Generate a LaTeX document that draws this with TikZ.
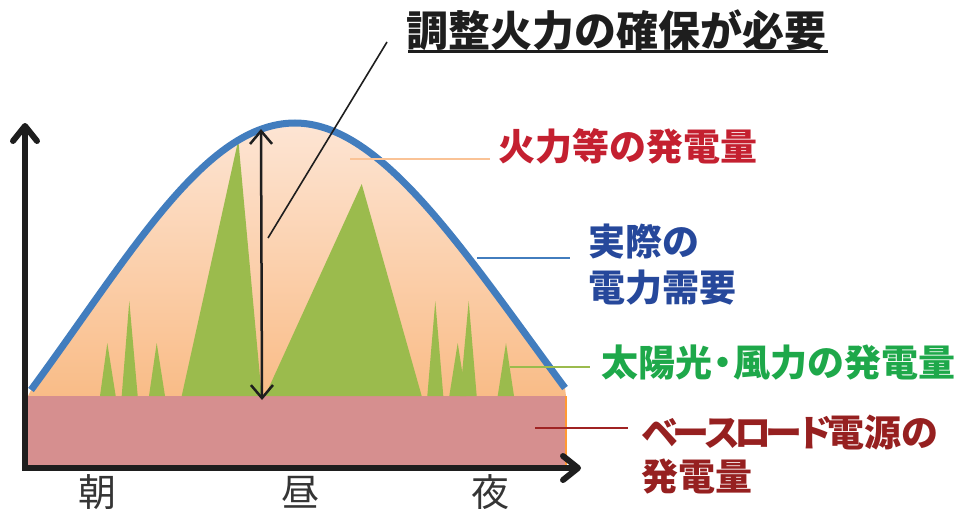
\documentclass[tikz,border=0pt]{standalone}
\usepackage{fontspec}
\newfontfamily\jp{Noto Sans CJK JP}
\usetikzlibrary{arrows.meta}
\definecolor{demandline}{RGB}{66,125,190}
\definecolor{solargreen}{RGB}{155,187,77}
\definecolor{basepink}{RGB}{214,143,143}
\definecolor{fillTop}{RGB}{253,229,212}
\definecolor{fillBot}{RGB}{249,188,135}
\definecolor{firered}{RGB}{196,32,48}
\definecolor{fireline}{RGB}{250,195,150}
\definecolor{demandtext}{RGB}{38,72,155}
\definecolor{greentext}{RGB}{30,168,74}
\definecolor{basered}{RGB}{150,32,32}
\definecolor{baseleader}{RGB}{160,35,35}
\definecolor{axisblack}{RGB}{30,30,30}
\newcommand{\kn}[1]{#1\kern-6pt}
\tikzset{
  axisline/.style={line width=6pt, draw=axisblack, -{Straight Barb[round,length=15pt,width=24pt]}},
  leader/.style={line width=2pt},
  label/.style={inner sep=0pt, anchor=west, font=\jp\bfseries\fontsize{37}{46}\selectfont, align=left},
  timelabel/.style={inner sep=0pt, font=\jp\fontsize{38}{40}\selectfont, text=axisblack!90},
  solar/.style={fill=solargreen, draw=none}
}
\begin{document}
\begin{tikzpicture}[x=1pt,y=-1pt]
\useasboundingbox (0,0) rectangle (957,508);
% fire generation area
\shade[top color=fillTop, bottom color=fillBot]
  (28,396) -- (31,390) .. controls (131,254) and (205,123) .. (295,123)
  .. controls (382,123) and (465,253) .. (565,388) -- (566,396) -- cycle;
% base load
\fill[basepink] (28,396) rectangle (566,466);
\draw[line width=1.5pt, orange!80] (566,396) -- (566,466);
% solar / wind
\fill[solar] (100,396) -- (107.3,343) -- (115.7,396) -- cycle;
\fill[solar] (121.7,396) -- (129.3,301) -- (137.7,396) -- cycle;
\fill[solar] (149,396) -- (156.7,343) -- (165,396) -- cycle;
\fill[solar] (181.7,396) -- (238.3,140) -- (261.7,396) -- cycle;
\fill[solar] (265,396) -- (361.7,184) -- (421.7,396) -- cycle;
\fill[solar] (427.3,396) -- (435.3,301) -- (443.3,396) -- cycle;
\fill[solar] (449.3,396) -- (457.7,343) -- (466,396) -- cycle;
\fill[solar] (460,396) -- (468.7,301) -- (476.7,396) -- cycle;
\fill[solar] (497.7,396) -- (506,343) -- (514,396) -- cycle;
% demand curve
\draw[line width=7pt, demandline]
  (31,390) .. controls (131,254) and (205,123) .. (295,123)
  .. controls (382,123) and (465,253) .. (565,388);
% axes
\coordinate (origin) at (25,468);
\coordinate (ytip) at (25,123);
\coordinate (xtip) at (581,468);
\draw[axisline] ([yshift=3pt]origin) -- (ytip);
\draw[axisline] ([xshift=-3pt]origin) -- (xtip);
% adjustment arrow
\coordinate (adjtop) at (261,129);
\coordinate (adjbot) at (262,400);
\draw[line width=2.5pt, axisblack, {Straight Barb[length=13pt,width=22pt]}-{Straight Barb[length=13pt,width=22pt]}] (adjtop) -- (adjbot);
% title
\node[inner sep=0pt, anchor=west, font=\jp\bfseries\fontsize{42}{42}\selectfont, text=axisblack] (title) at (406,30) {調整火力の確保が必要};
\coordinate (ul1) at (408,52);
\coordinate (ul2) at (828,52);
\draw[line width=3pt, axisblack] (ul1) -- (ul2);
\coordinate (adjline) at (268,238);
\coordinate (titlept) at (387,42);
\draw[line width=1.6pt, axisblack] (adjline) -- (titlept);
% labels
\node[label, text=firered] (fire) at (498,146) {火力等の発電量};
\node[label, text=demandtext, anchor=north west] (demand) at (588,224) {実際の\\電力需要};
\node[label, text=greentext] (solarlab) at (601,363) {太陽光\kern-8pt・\kern-8pt 風力の発電量};
\node[label, text=basered, anchor=north west, font=\jp\bfseries\fontsize{37}{44}\selectfont] (base) at (641,415) {\kn{ベ}\kn{ー}\kn{ス}\kn{ロ}\kn{ー}\kn{ド}電源の\\発電量};
% leaders
\coordinate (f1) at (350,159);
\coordinate (f2) at (490,159);
\draw[leader, fireline] (f1) -- (f2);
\coordinate (d1) at (477,258);
\coordinate (d2) at (570,258);
\draw[leader, demandline] (d1) -- (d2);
\coordinate (s1) at (510,367);
\coordinate (s2) at (590,367);
\draw[leader, solargreen] (s1) -- (s2);
\coordinate (b1) at (535,428);
\coordinate (b2) at (628,428);
\draw[leader, baseleader] (b1) -- (b2);
% time labels
\node[timelabel] (asa) at (97,492) {朝};
\node[timelabel] (hiru) at (300,492) {昼};
\node[timelabel] (yoru) at (490,492) {夜};
\end{tikzpicture}
\end{document}
